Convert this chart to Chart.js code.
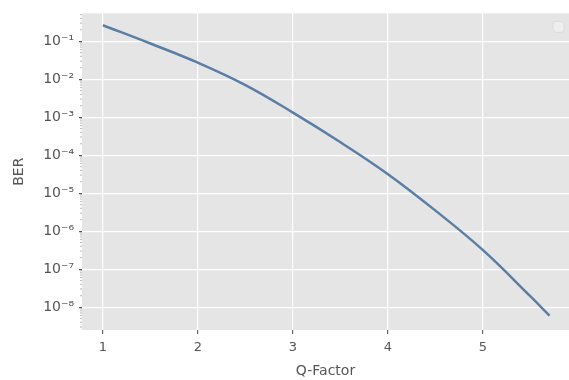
<!DOCTYPE html>
<html>
<head>
<meta charset="utf-8">
<script src="https://cdn.jsdelivr.net/npm/chart.js@4"></script>
<style>
html,body{margin:0;padding:0;background:#fff;}
#wrap{width:569px;height:380px;position:relative;}
</style>
</head>
<body>
<div id="wrap"><canvas id="c"></canvas></div>
<script>
const qFactor = [1.0, 1.5, 2.0, 2.5, 3.0, 3.5, 4.0, 4.5, 5.0, 5.5, 5.7];
const berValues = [0.263, 0.087, 0.0272, 7.0e-3, 1.32e-3, 2.19e-4, 3.16e-5, 3.47e-6, 3.16e-7, 1.91e-8, 6.0e-9];
const yTickValues = [1e-1, 1e-2, 1e-3, 1e-4, 1e-5, 1e-6, 1e-7, 1e-8];
const yTickLabels = ['10⁻¹', '10⁻²', '10⁻³', '10⁻⁴', '10⁻⁵', '10⁻⁶', '10⁻⁷', '10⁻⁸'];
const xTickValues = [1, 2, 3, 4, 5];

const bgPlugin = {
  id: 'bg',
  beforeDraw(chart) {
    const {ctx, chartArea: a} = chart;
    ctx.save();
    ctx.fillStyle = '#E5E5E5';
    ctx.fillRect(a.left, a.top, a.right - a.left, a.bottom - a.top);
    ctx.restore();
  },
  afterDraw(chart) {
    const {ctx, chartArea: a, scales} = chart;
    const y = scales.y;
    ctx.save();
    ctx.strokeStyle = '#888';
    ctx.lineWidth = 0.6;
    for (let e = -9; e <= 0; e++) {
      for (let m = 2; m <= 9; m++) {
        const v = m * Math.pow(10, e);
        const py = y.getPixelForValue(v);
        if (py < a.top || py > a.bottom) continue;
        ctx.beginPath();
        ctx.moveTo(a.left - 2, py);
        ctx.lineTo(a.left, py);
        ctx.stroke();
      }
    }
    ctx.fillStyle = 'rgba(240,240,240,0.8)';
    ctx.strokeStyle = '#dcdcdc';
    ctx.lineWidth = 1;
    const bx = a.right - 16, by = a.top + 8, s = 11, r = 3;
    ctx.beginPath();
    ctx.moveTo(bx + r, by);
    ctx.arcTo(bx + s, by, bx + s, by + s, r);
    ctx.arcTo(bx + s, by + s, bx, by + s, r);
    ctx.arcTo(bx, by + s, bx, by, r);
    ctx.arcTo(bx, by, bx + s, by, r);
    ctx.closePath();
    ctx.fill();
    ctx.stroke();
    ctx.restore();
  }
};

new Chart(document.getElementById('c'), {
  type: 'line',
  data: {
    datasets: [{
      data: qFactor.map((q, i) => ({x: q, y: berValues[i]})),
      borderColor: '#5A7EA5',
      borderWidth: 2.5,
      pointRadius: 0,
      tension: 0.4,
      fill: false
    }]
  },
  options: {
    responsive: true,
    maintainAspectRatio: false,
    animation: false,
    layout: {padding: {left: 0, right: 0, top: 12, bottom: 0}},
    plugins: {legend: {display: false}, tooltip: {enabled: false}},
    scales: {
      x: {
        type: 'linear',
        min: 0.78,
        max: 5.905,
        afterBuildTicks(scale) { scale.ticks = xTickValues.map(v => ({value: v})); },
        afterFit(scale) { scale.height = 50; },
        grid: {color: '#FFFFFF', lineWidth: 1.2, tickColor: '#666', tickLength: 4, drawTicks: true},
        border: {display: false},
        ticks: {
          color: '#555',
          font: {family: 'DejaVu Sans', size: 13},
          padding: 6,
          callback: v => String(v)
        },
        title: {
          display: true,
          text: 'Q-Factor',
          color: '#555',
          font: {family: 'DejaVu Sans', size: 14},
          padding: {top: 2, bottom: 0}
        }
      },
      y: {
        type: 'logarithmic',
        min: 2.5e-9,
        max: 0.54,
        afterBuildTicks(scale) { scale.ticks = yTickValues.map(v => ({value: v})); },
        afterFit(scale) { scale.width = 82; },
        grid: {color: '#FFFFFF', lineWidth: 1.2, tickColor: '#555', tickLength: 3, drawTicks: true},
        border: {display: false},
        ticks: {
          color: '#555',
          font: {family: 'DejaVu Sans', size: 14},
          padding: 5,
          callback: (v) => {
            const i = yTickValues.findIndex(t => Math.abs(Math.log10(t) - Math.log10(v)) < 1e-6);
            return i >= 0 ? yTickLabels[i] : '';
          }
        },
        title: {
          display: true,
          text: 'BER',
          color: '#555',
          font: {family: 'DejaVu Sans', size: 14},
          padding: {top: 11, bottom: 0}
        }
      }
    }
  },
  plugins: [bgPlugin]
});
</script>
</body>
</html>
